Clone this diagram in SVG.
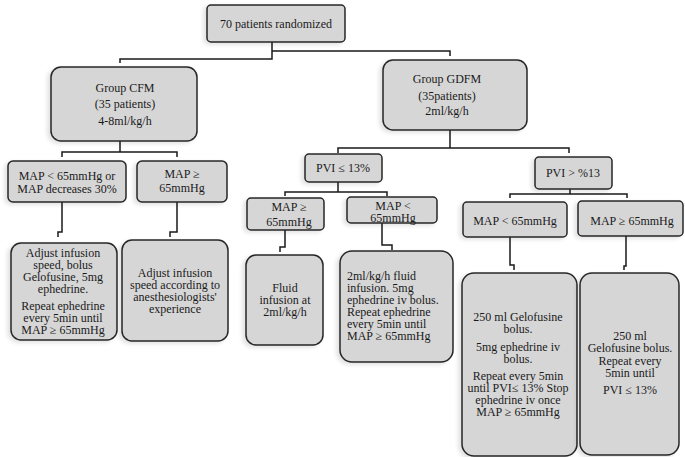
<svg xmlns="http://www.w3.org/2000/svg" width="685" height="457" viewBox="0 0 685 457">
<defs>
<filter id="sh" x="-20%" y="-20%" width="140%" height="140%">
<feGaussianBlur in="SourceAlpha" stdDeviation="2"/>
<feOffset dx="-3" dy="2" result="b"/>
<feComponentTransfer><feFuncA type="linear" slope="0.12"/></feComponentTransfer>
<feMerge><feMergeNode/><feMergeNode in="SourceGraphic"/></feMerge>
</filter>
</defs>
<style>
.b{fill:#d6d6d6;stroke:#262626;stroke-width:1.5;filter:url(#sh)}
.t{font-family:"Liberation Serif","Times New Roman",serif;font-size:12px;fill:#1a1a1a;text-anchor:middle}
.l{text-anchor:start}
.c{fill:none;stroke:#1a1a1a;stroke-width:1.5}
</style>
<rect width="685" height="457" fill="#ffffff"/>
<g id="connectors">
<path class="c" d="M272,42 V59 H120 V63 M272,51 H450 V56"/>
<path class="c" d="M120,141 V152 H62 V157 M120,152 H177 V157"/>
<path class="c" d="M450,130 V148 H338 V153 M450,148 H569 V153"/>
<path class="c" d="M62,202 V232 H58 V237"/>
<path class="c" d="M177,202 V232 H170 V237"/>
<path class="c" d="M338,182 V192 H285 V196 M338,192 H387 V196"/>
<path class="c" d="M285,230 V247 H280 V252"/>
<path class="c" d="M382,223 V245 H392 V250"/>
<path class="c" d="M570,189 V194 H510 V198 M570,194 H627 V198"/>
<path class="c" d="M510,237 V265 H514 V270"/>
<path class="c" d="M626,236 V266 H624 V270"/>
</g>
<g id="n_root"><rect class="b" x="207" y="5" width="138" height="37" rx="4"/>
<text class="t" x="276" y="28">70 patients randomized</text></g>
<g id="n_cfm"><rect class="b" x="51" y="67" width="146" height="74" rx="10"/>
<text class="t" x="125" y="92">Group CFM</text>
<text class="t" x="125" y="108">(35 patients)</text>
<text class="t" x="125" y="125">4-8ml/kg/h</text></g>
<g id="n_gdfm"><rect class="b" x="383" y="60" width="144" height="70" rx="10"/>
<text class="t" x="447" y="83">Group GDFM</text>
<text class="t" x="447" y="100">(35patients)</text>
<text class="t" x="447" y="115">2ml/kg/h</text></g>
<g id="n_cfm_low"><rect class="b" x="8" y="161" width="118" height="41" rx="5"/>
<text class="t" x="67" y="180">MAP &lt; 65mmHg or</text>
<text class="t" x="67" y="193">MAP decreases 30%</text></g>
<g id="n_cfm_ok"><rect class="b" x="137" y="161" width="90" height="41" rx="5"/>
<text class="t" x="182" y="178">MAP ≥</text>
<text class="t" x="182" y="192">65mmHg</text></g>
<g id="n_cfm_act1"><rect class="b" x="11" y="243" width="106" height="97" rx="10"/>
<text class="t" x="63" y="257">Adjust infusion</text>
<text class="t" x="63" y="269">speed, bolus</text>
<text class="t" x="63" y="281">Gelofusine, 5mg</text>
<text class="t" x="63" y="293">ephedrine.</text>
<text class="t" x="63" y="310">Repeat ephedrine</text>
<text class="t" x="63" y="322">every 5min until</text>
<text class="t" x="63" y="334">MAP ≥ 65mmHg</text></g>
<g id="n_cfm_act2"><rect class="b" x="122" y="240" width="106" height="101" rx="10"/>
<text class="t" x="175" y="277">Adjust infusion</text>
<text class="t" x="175" y="289">speed according to</text>
<text class="t" x="175" y="301">anesthesiologists'</text>
<text class="t" x="175" y="313">experience</text></g>
<g id="n_pvi_low"><rect class="b" x="305" y="154" width="77" height="28" rx="4"/>
<text class="t" x="343" y="172">PVI ≤ 13%</text></g>
<g id="n_pvi_high"><rect class="b" x="535" y="157" width="77" height="32" rx="4"/>
<text class="t" x="573" y="177">PVI &gt; %13</text></g>
<g id="n_mid_ok"><rect class="b" x="247" y="198" width="77" height="32" rx="4"/>
<text class="t" x="289" y="211">MAP ≥</text>
<text class="t" x="289" y="226">65mmHg</text></g>
<g id="n_mid_low"><rect class="b" x="347" y="197" width="90" height="26" rx="4"/>
<text class="t" x="393" y="210">MAP &lt;</text>
<text class="t" x="393" y="222">65mmHg</text></g>
<g id="n_mid_act1"><rect class="b" x="246" y="255" width="77" height="90" rx="10"/>
<text class="t" x="285" y="292">Fluid</text>
<text class="t" x="285" y="304">infusion at</text>
<text class="t" x="285" y="316">2ml/kg/h</text></g>
<g id="n_mid_act2"><rect class="b" x="340" y="251" width="113" height="111" rx="12"/>
<text class="t l" x="347" y="280">2ml/kg/h fluid</text>
<text class="t l" x="347" y="292">infusion. 5mg</text>
<text class="t l" x="347" y="304">ephedrine iv bolus.</text>
<text class="t l" x="347" y="316">Repeat ephedrine</text>
<text class="t l" x="347" y="328">every 5min until</text>
<text class="t l" x="347" y="340">MAP ≥ 65mmHg</text></g>
<g id="n_r_low"><rect class="b" x="463" y="202" width="104" height="35" rx="4"/>
<text class="t" x="515" y="225">MAP &lt; 65mmHg</text></g>
<g id="n_r_ok"><rect class="b" x="578" y="201" width="105" height="35" rx="4"/>
<text class="t" x="632" y="225">MAP ≥ 65mmHg</text></g>
<g id="n_r_act1"><rect class="b" x="462" y="273" width="115" height="183" rx="12"/>
<text class="t" x="518" y="321">250 ml Gelofusine</text>
<text class="t" x="518" y="333">bolus.</text>
<text class="t" x="518" y="351">5mg ephedrine iv</text>
<text class="t" x="518" y="363">bolus.</text>
<text class="t" x="518" y="380">Repeat every 5min</text>
<text class="t" x="518" y="392">until PVI≤ 13% Stop</text>
<text class="t" x="518" y="404">ephedrine iv once</text>
<text class="t" x="518" y="416">MAP ≥ 65mmHg</text></g>
<g id="n_r_act2"><rect class="b" x="580" y="273" width="99" height="182" rx="12"/>
<text class="t" x="630" y="340">250 ml</text>
<text class="t" x="630" y="352">Gelofusine bolus.</text>
<text class="t" x="630" y="365">Repeat every</text>
<text class="t" x="630" y="377">5min until</text>
<text class="t" x="630" y="394">PVI ≤ 13%</text></g>
</svg>
